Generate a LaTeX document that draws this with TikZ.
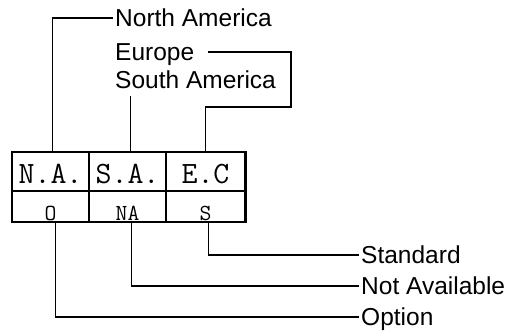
\documentclass[tikz,border=0pt]{standalone}
\usepackage{fontspec}
\setmainfont{Liberation Sans}
\begin{document}
\begin{tikzpicture}[x=1pt, y=1pt, yscale=-1,
    cell/.style={draw, line width=1.1pt, inner sep=0pt, minimum height=39pt,
      font=\ttfamily\fontsize{31}{31}\selectfont, text height=24pt, text depth=0pt},
    subcell/.style={cell, minimum height=31pt,
      font=\ttfamily\fontsize{23}{23}\selectfont, text height=27pt},
    lbl/.style={anchor=west, inner sep=2pt,
      font=\fontsize{24.5}{24.5}\selectfont, text height=17.5pt, text depth=0pt},
    wire/.style={line width=1.6pt}]
  \useasboundingbox (0,0) rectangle (516,331);
  % code table
  \node[cell, minimum width=77pt] (cna) at (50.5,171.5) {N.A.};
  \node[cell, minimum width=77pt] (csa) at (127.5,171.5) {S.A.};
  \node[cell, minimum width=79pt] (cec) at (205.5,171.5) {E.C};
  \node[subcell, minimum width=77pt] (co) at (50.5,206.5) {O};
  \node[subcell, minimum width=77pt] (cnv) at (127.5,206.5) {NA};
  \node[subcell, minimum width=79pt] (cs) at (205.5,206.5) {S};
  \draw[line width=2pt] (cec.north east) -- (cs.south east);
  % labels
  \node[lbl] (lnorth) at (113,18) {North America};
  \node[lbl] (leurope) at (113,52) {Europe};
  \node[lbl] (lsouth) at (113,80) {South America};
  \node[lbl] (lstd) at (359,255) {Standard};
  \node[lbl] (lna) at (359,286) {Not Available};
  \node[lbl] (lopt) at (359,317) {Option};
  % connectors
  \coordinate (ebend) at (291,107);
  \draw[wire] ([xshift=2pt]cna.north) |- (lnorth.west);
  \draw[wire] ([xshift=3pt]csa.north) -- ++(0,-55);
  \draw[wire] ([xshift=12pt]leurope.east) -| (ebend) -| (cec.north);
  \draw[wire] ([xshift=3pt]cs.south) |- (lstd.west);
  \draw[wire] ([xshift=4pt]cnv.south) |- (lna.west);
  \draw[wire] ([xshift=5pt]co.south) |- (lopt.west);
\end{tikzpicture}
\end{document}
